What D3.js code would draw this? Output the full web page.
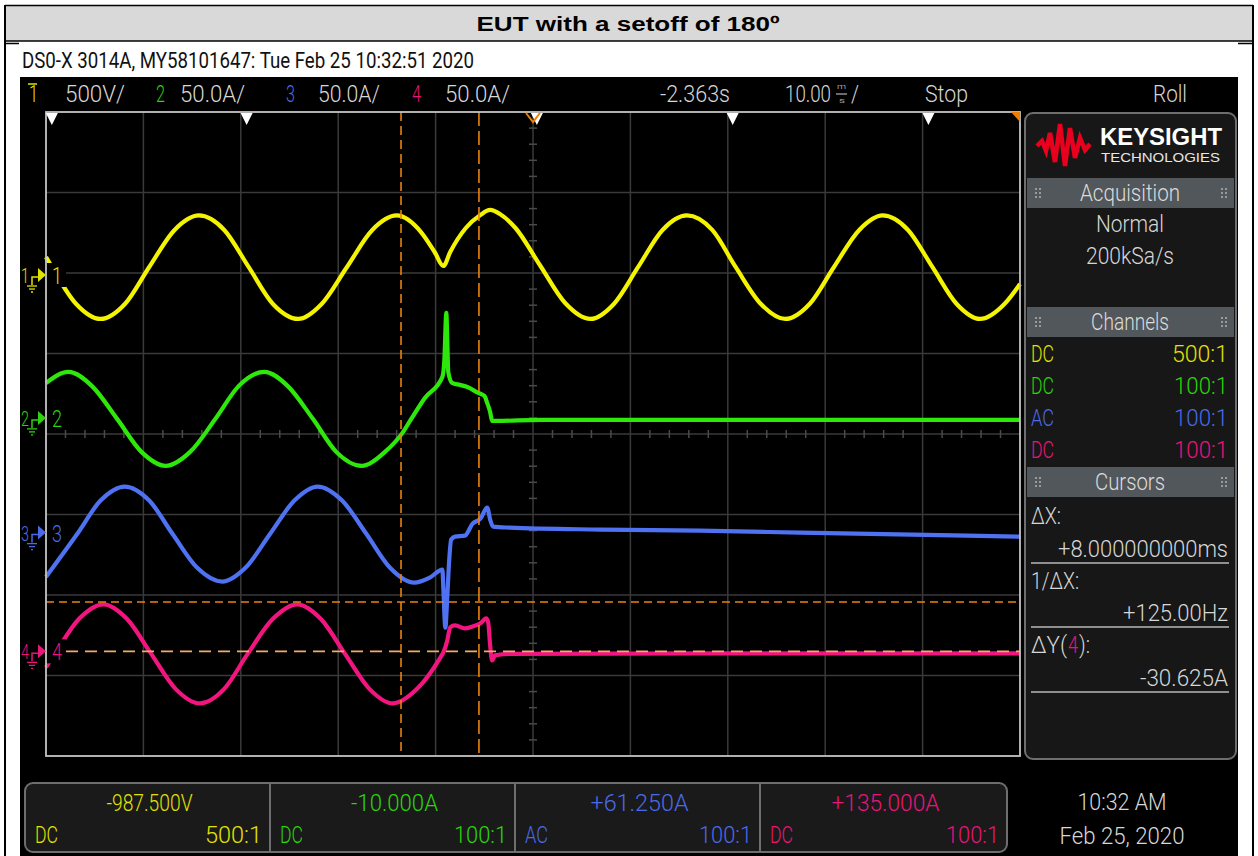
<!DOCTYPE html>
<html><head><meta charset="utf-8">
<script src="https://cdn.jsdelivr.net/npm/d3@7"></script>
<style>body{margin:0;background:#fff}svg{display:block}</style>
</head><body>
<svg id="c" width="1258" height="856"></svg>
<script>
// ---------------- DATA ----------------
const title = "EUT with a setoff of 180º";
const scopeInfo = "DS0-X 3014A, MY58101647: Tue Feb 25 10:32:51 2020";
const chNames = ["1", "2", "3", "4"];
const chScale = [500, 50, 50, 50];            // units per division
const chScaleText = ["500V/", "50.0A/", "50.0A/", "50.0A/"];
const chOffset = [-987.5, -10, 61.25, 135];   // offsets shown on the scope
const chOffsetText = ["-987.500V", "-10.000A", "+61.250A", "+135.000A"];
const chCoupling = ["DC", "DC", "AC", "DC"];
const chProbe = ["500:1", "100:1", "100:1", "100:1"];
const timeDomain = [-50, 50];                 // ms (10 ms/div)
const timeText = ["-2.363s", "10.00", "Stop", "Roll"];

// channel 1 (V) vs time (ms)
const ch1T = [-50,-49.4,-46.9,-44.4,-41.9,-39.4,-36.8,-34.3,-31.7,-29.2,-26.7,-24.1,-21.7,-19.1,-16.5,-14.0,-11.5,-10.1,-9.2,-8.5,-6.9,-5.4,-4.4,-3.4,-1.8,0.7,3.3,5.9,8.3,10.8,13.3,15.8,18.4,20.8,23.4,25.9,28.4,30.9,33.5,35.9,38.5,41.0,43.5,45.9,48.4,50];
const ch1V = [112,50,-180,-273,-180,50,280,370,280,50,-180,-273,-180,50,280,370,267,143,56,143,292,373,404,379,292,62,-174,-273,-180,50,280,370,280,50,-180,-273,-180,50,280,370,280,50,-180,-273,-180,-56];
// channel 2 (A)
const ch2T = [-50,-47.7,-45.3,-42.7,-40.2,-37.7,-35.2,-32.6,-30.2,-27.6,-25.2,-22.6,-20.2,-17.6,-15.2,-13.4,-12.5,-11.1,-9.3,-9.1,-8.9,-8.8,-8.7,-8.3,-7.5,-6.8,-5.6,-5.0,-4.7,-4.4,-4.2,-3.8,0.7,17.1,50];
const ch2A = [21.7,28.6,19.9,-0.6,-21.1,-29.8,-21.1,-0.6,19.9,28.6,19.9,-0.6,-21.1,-29.8,-21.1,-9.3,-0.6,12.4,25.5,36.0,65.2,48.4,28.6,21.7,20.5,19.3,15.5,13.7,9.3,3.7,-1.9,-1.9,-1.2,-1.2,-1.2];
// channel 3 (A)
const ch3T = [-50,-46.8,-44.4,-41.9,-39.4,-37.0,-34.5,-31.9,-29.5,-27.0,-24.5,-22.1,-19.6,-17.1,-14.7,-12.2,-10.6,-9.3,-9.2,-9.0,-8.8,-8.6,-8.4,-8.0,-7.0,-6.2,-5.4,-4.7,-4.4,-4.1,-2.4,6.9,17.1,27.4,50];
const ch3A = [-27.5,-0.9,19.9,28.6,19.9,-0.9,-21.7,-30.4,-21.7,-0.9,19.9,28.6,19.9,-0.9,-21.7,-31.1,-28.0,-23.0,-35.4,-59.0,-39.8,-16.8,-4.3,-2.5,-1.9,5.6,8.7,15.5,8.1,3.7,3.1,1.9,1.2,0,-2.5];
// channel 4 (A)
const ch4T = [-50,-49.1,-46.6,-44.1,-41.7,-39.2,-36.7,-34.2,-31.7,-29.3,-26.7,-24.2,-21.8,-19.3,-16.8,-14.4,-11.9,-9.5,-9.2,-8.8,-8.5,-8.0,-7.0,-6.2,-5.4,-4.8,-4.6,-4.4,-4.2,-3.9,-2.4,17.1,50];
const ch4A = [-9.9,-1.6,20.2,29.2,20.2,-1.6,-23.3,-32.3,-23.3,-1.6,20.2,29.2,20.2,-1.6,-23.3,-32.3,-23.3,-3.7,-0.6,6.8,14.9,16.1,14.3,15.5,17.4,20.5,18.0,3.7,-5.6,-2.5,-1.6,-1.3,-1.3];

const cursorX = [-13.55, -5.55];      // ms
const cursorY4 = [30.625, 0];         // A on channel 4
const markerT = [-49.4, -29.4, 0.4, 20.5, 40.6];
const cursorText = ["+8.000000000ms", "+125.00Hz", "-30.625A"];
const acqText = ["Normal", "200kSa/s"];
const clockText = ["10:32 AM", "Feb 25, 2020"];

// ---------------- STYLE ----------------
const colors = ["#f4f400", "#2ee80c", "#4f72f2", "#f2157f"];
const textColors = ["#e2e200", "#2bd40c", "#4a6ae8", "#e8157a"];
const FF = "Roboto,'Liberation Sans',sans-serif";
const FW = 300;
const svg = d3.select("#c");

function txt(p, x, y, s, o = {}) {
  const e = p.append("text").attr("x", x).attr("y", y).text(s)
    .attr("font-family", o.ff || FF).attr("font-size", o.fs || 24)
    .attr("fill", o.fill || "#d6d6d6").attr("text-anchor", o.anchor || "start")
    .attr("font-weight", o.fw || FW);
  if (o.w) e.attr("textLength", o.w).attr("lengthAdjust", "spacingAndGlyphs");
  return e;
}

// ---------------- PAGE / TABLE ----------------
svg.append("rect").attr("width", 1258).attr("height", 856).attr("fill", "#fff");
svg.append("rect").attr("x", 6).attr("y", 6).attr("width", 1246).attr("height", 35).attr("fill", "#d9d9d9");
svg.append("line").attr("x1", 5).attr("x2", 1253).attr("y1", 5.5).attr("y2", 5.5).attr("stroke", "#000").attr("stroke-width", 1.5);
svg.append("line").attr("x1", 5).attr("x2", 1253).attr("y1", 41).attr("y2", 41).attr("stroke", "#000").attr("stroke-width", 1.5);
svg.append("line").attr("x1", 5).attr("x2", 5).attr("y1", 5).attr("y2", 856).attr("stroke", "#000").attr("stroke-width", 2);
svg.append("line").attr("x1", 1253).attr("x2", 1253).attr("y1", 5).attr("y2", 856).attr("stroke", "#000").attr("stroke-width", 2);
svg.append("line").attr("x1", 5).attr("x2", 19).attr("y1", 43.5).attr("y2", 43.5).attr("stroke", "#000").attr("stroke-width", 1.5);
svg.append("line").attr("x1", 1238).attr("x2", 1253).attr("y1", 43.5).attr("y2", 43.5).attr("stroke", "#000").attr("stroke-width", 1.5);
txt(svg, 628, 31, title, {ff: "'Liberation Sans',Arial,sans-serif", fs: 20, fw: "bold", fill: "#000", anchor: "middle", w: 303});
txt(svg, 22, 68, scopeInfo, {fs: 22, fill: "#111", w: 452, fw: 400});

// scope screen
svg.append("rect").attr("x", 20).attr("y", 77).attr("width", 1218).attr("height", 779).attr("fill", "#000");

// ---------------- STATUS BAR ----------------
const sb = svg.append("g");
const chLabelX = [29, 156, 286, 412], chScaleX = [65, 180, 318, 445], chScaleW = [60, 65, 62, 65];
chNames.forEach((n, i) => {
  txt(sb, chLabelX[i], 102, n, {fill: textColors[i], w: 9});
  txt(sb, chScaleX[i], 102, chScaleText[i], {fill: "#d8d8d8", w: chScaleW[i]});
});
sb.append("line").attr("x1", 28).attr("x2", 37).attr("y1", 84).attr("y2", 84).attr("stroke", textColors[0]).attr("stroke-width", 1.5);
txt(sb, 660, 102, timeText[0], {w: 70});
// time/div value, squeezed horizontally via transform
const tdiv = sb.append("g").attr("transform", "translate(785,102) scale(0.78,1)");
txt(tdiv, 0, 0, timeText[1], {});
txt(sb, 837, 89, "m", {fs: 8, w: 9});
txt(sb, 839, 103, "s", {fs: 8, w: 6});
sb.append("line").attr("x1", 836).attr("x2", 847).attr("y1", 94).attr("y2", 94).attr("stroke", "#d8d8d8");
txt(sb, 851, 102, "/", {w: 8});
txt(sb, 925, 102, timeText[2], {w: 43});
txt(sb, 1153, 102, timeText[3], {w: 34});

// ---------------- PLOT ----------------
const L = 46, R = 1020, T = 112, B = 756;
const x = d3.scaleLinear().domain(timeDomain).range([L, R]);
const yDiv = d3.scaleLinear().domain([-4, 4]).range([B, T]);
const yCh = i => v => yDiv((v - chOffset[i]) / chScale[i]);
const g = svg.append("g");

// grid
const gridCol = "#3a3a3a";
const xTicks = d3.range(-40, 50, 10), yTicks = d3.range(-3, 4, 1);
g.selectAll(".vg").data(xTicks).join("line").attr("x1", d => x(d)).attr("x2", d => x(d)).attr("y1", T).attr("y2", B).attr("stroke", gridCol).attr("stroke-width", 1.5);
g.selectAll(".hg").data(yTicks).join("line").attr("y1", d => yDiv(d)).attr("y2", d => yDiv(d)).attr("x1", L).attr("x2", R).attr("stroke", gridCol).attr("stroke-width", 1.5);
// minor ticks on centre axes
const minorT = d3.range(-50, 50.01, 2).filter(d => d % 10 !== 0);
g.selectAll(".mt").data(minorT).join("line").attr("x1", d => x(d)).attr("x2", d => x(d)).attr("y1", yDiv(0) - 4).attr("y2", yDiv(0) + 4).attr("stroke", "#4a4a4a").attr("stroke-width", 1.5);
const minorY = d3.range(-4, 4.01, 0.2).filter(d => Math.abs(d - Math.round(d)) > 0.01);
g.selectAll(".my").data(minorY).join("line").attr("y1", d => yDiv(d)).attr("y2", d => yDiv(d)).attr("x1", x(0) - 4).attr("x2", x(0) + 4).attr("stroke", "#4a4a4a").attr("stroke-width", 1.5);

// traces
const series = [[ch1T, ch1V], [ch2T, ch2A], [ch3T, ch3A], [ch4T, ch4A]];
series.forEach(([ts, vs], i) => {
  const yy = yCh(i);
  const line = d3.line().x((d, k) => x(ts[k])).y(d => yy(d)).curve(d3.curveMonotoneX);
  g.append("path").attr("d", line(vs)).attr("fill", "none").attr("stroke", colors[i])
    .attr("stroke-width", 4.2).attr("stroke-linejoin", "round");
});

// cursors
g.selectAll(".cx").data(cursorX).join("line").attr("x1", d => x(d)).attr("x2", d => x(d)).attr("y1", T).attr("y2", B)
  .attr("stroke", "#e8830f").attr("stroke-width", 1.6).attr("stroke-dasharray", (d, k) => k === 0 ? "9,5" : "14,5");
const y4 = yCh(3);
g.append("line").attr("x1", L).attr("x2", R).attr("y1", y4(cursorY4[0])).attr("y2", y4(cursorY4[0]))
  .attr("stroke", "#e8830f").attr("stroke-width", 1.6).attr("stroke-dasharray", "8,5");
g.append("line").attr("x1", L + 20).attr("x2", R).attr("y1", y4(cursorY4[1])).attr("y2", y4(cursorY4[1]))
  .attr("stroke", "#f2aa66").attr("stroke-width", 1.6).attr("stroke-dasharray", "12,7");

// border
g.append("rect").attr("x", L).attr("y", T).attr("width", R - L).attr("height", B - T).attr("fill", "none").attr("stroke", "#c4c4c4").attr("stroke-width", 1.8);

// top markers
g.selectAll(".tm").data(markerT).join("path")
  .attr("d", d => `M${x(d) - 6},${T + 1}L${x(d) + 6},${T + 1}L${x(d)},${T + 13}Z`).attr("fill", "#fff");
g.append("path").attr("d", `M${x(0) - 7},${T + 1}L${x(0)},${T + 10}L${x(0) + 7},${T + 1}`).attr("fill", "none").attr("stroke", "#f07d00").attr("stroke-width", 2);
g.append("path").attr("d", `M${R - 9},${T}L${R},${T}L${R},${T + 10}Z`).attr("fill", "#f07d00");

// channel ground markers
chNames.forEach((n, i) => {
  const gy = yCh(i)(0), c = textColors[i];
  g.append("rect").attr("x", L + 1).attr("y", gy - 12).attr("width", 19).attr("height", 24).attr("fill", "#000");
  txt(g, 52, gy + 9, n, {fill: c, fs: 23, w: 10});
  txt(g, 21, gy + 8, n, {fill: c, fs: 20, w: 8});
  g.append("path").attr("d", `M32,${gy + 10}V${gy + 2}H38`).attr("fill", "none").attr("stroke", c).attr("stroke-width", 1.5);
  g.append("path").attr("d", `M38,${gy - 7}L46,${gy}L38,${gy + 7}Z`).attr("fill", c);
  [[27, 37, 11], [29, 35, 14], [31, 33, 17]].forEach(([a, b, dy]) =>
    g.append("line").attr("x1", a).attr("x2", b).attr("y1", gy + dy).attr("y2", gy + dy).attr("stroke", c).attr("stroke-width", 1.3));
});

// ---------------- RIGHT PANEL ----------------
const P = svg.append("g");
P.append("rect").attr("x", 1025).attr("y", 113).attr("width", 211).attr("height", 646).attr("rx", 8)
  .attr("fill", "#171717").attr("stroke", "#6e6e6e").attr("stroke-width", 2);
// logo
P.append("path").attr("d", "M1037,146 L1042,141 L1046,151 L1050,133 L1055,162 L1060,124 L1065,166 L1070,128 L1075,158 L1080,138 L1085,150 L1090,144")
  .attr("fill", "none").attr("stroke", "#e8001c").attr("stroke-width", 4.5).attr("stroke-linejoin", "miter");
txt(P, 1100, 145, "KEYSIGHT", {ff: "'Liberation Sans',Arial,sans-serif", fs: 24, fw: "bold", fill: "#fff", w: 122});
txt(P, 1101, 162, "TECHNOLOGIES", {ff: "'Liberation Sans',Arial,sans-serif", fs: 13, fw: 400, fill: "#e8e8e8", w: 119});
const hdrs = [["Acquisition", 178, 100], ["Channels", 307, 78], ["Cursors", 467, 70]];
hdrs.forEach(([s, y0, w]) => {
  P.append("rect").attr("x", 1027).attr("y", y0).attr("width", 207).attr("height", 30).attr("fill", "#52575b");
  txt(P, 1130, y0 + 23, s, {anchor: "middle", w: w, fill: "#dcdcdc"});
  [1035, 1039, 1221, 1225].forEach(dx => [-4, 0, 4].forEach(dy =>
    P.append("rect").attr("x", dx).attr("y", y0 + 15 + dy - 1).attr("width", 2).attr("height", 2).attr("fill", "#9a9a9a")));
});
txt(P, 1130, 232, acqText[0], {anchor: "middle", w: 68});
txt(P, 1130, 264, acqText[1], {anchor: "middle", w: 88});
chNames.forEach((n, i) => {
  const yb = 362 + i * 32;
  txt(P, 1031, yb, chCoupling[i], {fill: textColors[i], w: 23});
  txt(P, 1228, yb, chProbe[i], {fill: textColors[i], anchor: "end", w: chProbe[i] === "500:1" ? 56 : 54});
});
txt(P, 1031, 524, "ΔX:", {w: 30});
txt(P, 1228, 557, cursorText[0], {anchor: "end", w: 170});
txt(P, 1031, 589, "1/ΔX:", {w: 48});
txt(P, 1228, 621, cursorText[1], {anchor: "end", w: 105});
txt(P, 1031, 653, "ΔY(", {w: 36});
txt(P, 1068, 653, "4", {w: 10, fill: textColors[3]});
txt(P, 1079, 653, "):", {w: 11});
txt(P, 1228, 686, cursorText[2], {anchor: "end", w: 88});
[563, 627, 692].forEach(yl => P.append("line").attr("x1", 1031).attr("x2", 1229).attr("y1", yl).attr("y2", yl).attr("stroke", "#b8b8b8").attr("stroke-width", 1.5));

// ---------------- BOTTOM BAR ----------------
const Bt = svg.append("g");
Bt.append("rect").attr("x", 25).attr("y", 783).attr("width", 982).attr("height", 69).attr("rx", 8)
  .attr("fill", "#1a1a1a").attr("stroke", "#6e6e6e").attr("stroke-width", 2);
const secL = [25, 270, 515, 760], secR = [270, 515, 760, 1007];
const offW = [86, 87, 98, 108];
chNames.forEach((n, i) => {
  if (i > 0) Bt.append("line").attr("x1", secL[i]).attr("x2", secL[i]).attr("y1", 783).attr("y2", 852).attr("stroke", "#6e6e6e").attr("stroke-width", 2);
  txt(Bt, (secL[i] + secR[i]) / 2 + 2, 811, chOffsetText[i], {fill: textColors[i], anchor: "middle", w: offW[i]});
  txt(Bt, secL[i] + 10, 843, chCoupling[i], {fill: textColors[i], w: 23});
  txt(Bt, secR[i] - 8, 843, chProbe[i], {fill: textColors[i], anchor: "end", w: chProbe[i] === "500:1" ? 57 : 53});
});
txt(svg, 1122, 810, clockText[0], {anchor: "middle", w: 89, fill: "#d8d8d8"});
txt(svg, 1122, 844, clockText[1], {anchor: "middle", w: 125, fill: "#d8d8d8"});
</script>
</body></html>
